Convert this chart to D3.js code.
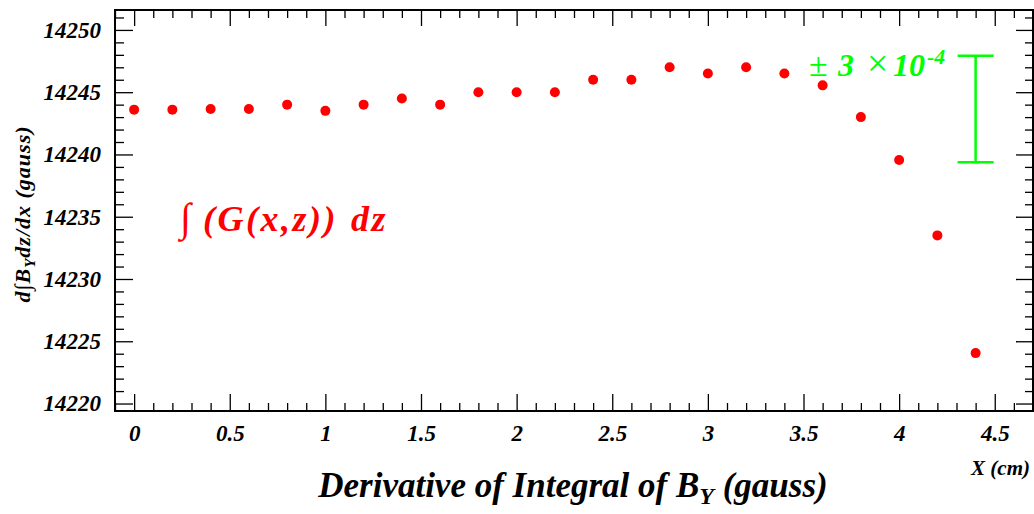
<!DOCTYPE html>
<html><head><meta charset="utf-8">
<script src="https://cdn.jsdelivr.net/npm/d3@7"></script>
<style>
body{margin:0;background:#fff}
svg{display:block}
</style>
</head><body><svg id="c" width="1034" height="514"></svg>
<script>
// ---- data ----
const xValues = [0,0.2,0.4,0.6,0.8,1.0,1.2,1.4,1.6,1.8,2.0,2.2,2.4,2.6,2.8,3.0,3.2,3.4,3.6,3.8,4.0,4.2,4.4];
const yValues = [14243.6,14243.6,14243.65,14243.65,14244.0,14243.5,14244.0,14244.5,14244.0,14245.0,14245.0,14245.0,14246.0,14246.0,14247.0,14246.5,14247.0,14246.5,14245.55,14243.0,14239.55,14233.5,14224.05];
const xTickValues = [0,0.5,1,1.5,2,2.5,3,3.5,4,4.5];
const xTickLabels = ["0","0.5","1","1.5","2","2.5","3","3.5","4","4.5"];
const yTickValues = [14220,14225,14230,14235,14240,14245,14250];
const yTickLabels = ["14220","14225","14230","14235","14240","14245","14250"];
const errX = [4.4];
const errCenter = [14243.65];
const errRel = [3e-4];

// ---- layout ----
const FONT = '"Liberation Serif","Times New Roman",serif';
const L=115, T=10, R=1033, B=411;
const svg = d3.select("#c");
const x = d3.scaleLinear().domain([-0.1,4.7]).range([L,R]);
const y = d3.scaleLinear().domain([14219.4,14251.6]).range([B,T]);

const xMinor = d3.range(-1,48).map(d=>Math.round(d)/10).filter(v=>v>=-0.1&&v<=4.7&&xTickValues.indexOf(v)<0);
const yMinor = d3.range(14220,14252).filter(v=>yTickValues.indexOf(v)<0);

function styleAxis(g){
  g.select(".domain").remove();
  g.selectAll(".tick line").attr("stroke","#000").attr("stroke-width",1.3);
  g.selectAll("text").attr("fill","#000").attr("font-size","23px")
    .attr("font-family",FONT).attr("font-weight","bold").attr("font-style","italic");
}
// bottom
svg.append("g").attr("transform",`translate(0,${B})`)
  .call(d3.axisBottom(x).tickValues(xTickValues).tickFormat((d,i)=>xTickLabels[i]).tickSize(-17).tickPadding(14))
  .call(styleAxis);
svg.append("g").attr("transform",`translate(0,${B})`)
  .call(d3.axisBottom(x).tickValues(xMinor).tickFormat("").tickSize(-8)).call(styleAxis);
// top
svg.append("g").attr("transform",`translate(0,${T})`)
  .call(d3.axisTop(x).tickValues(xTickValues).tickFormat("").tickSize(-16)).call(styleAxis);
svg.append("g").attr("transform",`translate(0,${T})`)
  .call(d3.axisTop(x).tickValues(xMinor).tickFormat("").tickSize(-8)).call(styleAxis);
// left
svg.append("g").attr("transform",`translate(${L},0)`)
  .call(d3.axisLeft(y).tickValues(yTickValues).tickFormat((d,i)=>yTickLabels[i]).tickSize(-18).tickPadding(14))
  .call(styleAxis);
svg.append("g").attr("transform",`translate(${L},0)`)
  .call(d3.axisLeft(y).tickValues(yMinor).tickFormat("").tickSize(-9)).call(styleAxis);
// right
svg.append("g").attr("transform",`translate(${R},0)`)
  .call(d3.axisRight(y).tickValues(yTickValues).tickFormat("").tickSize(-17)).call(styleAxis);
svg.append("g").attr("transform",`translate(${R},0)`)
  .call(d3.axisRight(y).tickValues(yMinor).tickFormat("").tickSize(-8)).call(styleAxis);

// frame
svg.append("rect").attr("x",L).attr("y",T).attr("width",R-L).attr("height",B-T)
  .attr("fill","none").attr("stroke","#000").attr("stroke-width",2);

// points
svg.append("g").selectAll("circle").data(xValues).join("circle")
  .attr("cx",d=>x(d)).attr("cy",(d,i)=>y(yValues[i])).attr("r",5).attr("fill","#ff0000");

// error bar
errX.forEach((ex,i)=>{
  const c=errCenter[i], r=errRel[i];
  const g=svg.append("g").attr("stroke","#00ff00").attr("stroke-width",2.5);
  const xx=x(ex), y1=y(c*(1+r)), y2=y(c*(1-r));
  g.append("line").attr("x1",xx).attr("x2",xx).attr("y1",y1).attr("y2",y2);
  g.append("line").attr("x1",xx-18).attr("x2",xx+18).attr("y1",y1).attr("y2",y1);
  g.append("line").attr("x1",xx-18).attr("x2",xx+18).attr("y1",y2).attr("y2",y2);
});

function txt(sel){ return sel.attr("font-family",FONT).attr("font-weight","bold").attr("font-style","italic"); }

// green label
const gl = txt(svg.append("text").attr("y",76).attr("fill","#00ff00").attr("font-size","32px"));
gl.append("tspan").attr("x",809).attr("font-style","normal").attr("font-weight","normal").attr("font-size","34px").text("±");
gl.append("tspan").attr("x",838).text("3");
gl.append("tspan").attr("x",867).attr("font-style","normal").attr("font-weight","normal").attr("font-size","38px").text("×");
gl.append("tspan").attr("x",893).text("10");
gl.append("tspan").attr("x",927).attr("font-size","22px").attr("dy",-12).text("-4");

// red formula
const rf = txt(svg.append("text").attr("y",231).attr("fill","#ff0000").attr("font-size","36px"));
rf.append("tspan").attr("x",180).attr("font-style","normal").attr("font-weight","normal").attr("font-size","40px").text("∫");
rf.append("tspan").attr("x",203).attr("letter-spacing","2.5px").text("(G(x,z))");
rf.append("tspan").attr("x",351).attr("letter-spacing","2.5px").text("dz");

// y title
const yt = txt(svg.append("text").attr("transform","translate(30,214) rotate(-90)")
  .attr("text-anchor","middle").attr("font-size","22px").attr("fill","#000").attr("letter-spacing","1px"));
yt.append("tspan").text("d");
yt.append("tspan").attr("font-style","normal").attr("font-weight","normal").text("∫");
yt.append("tspan").text("B");
yt.append("tspan").attr("font-size","15px").attr("dy",5).text("Y");
yt.append("tspan").attr("dy",-5).text("dz/dx (gauss)");

// x title
const xt = txt(svg.append("text").attr("x",573).attr("y",497).attr("text-anchor","middle")
  .attr("font-size","35px").attr("fill","#000"));
xt.append("tspan").text("Derivative of Integral of B");
xt.append("tspan").attr("font-size","24px").attr("dy",7).text("Y");
xt.append("tspan").attr("dy",-7).text(" (gauss)");

// x unit label
txt(svg.append("text").attr("x",1030).attr("y",475).attr("text-anchor","end")
  .attr("font-size","21px").attr("fill","#000")).text("X (cm)");
</script>
</body></html>
